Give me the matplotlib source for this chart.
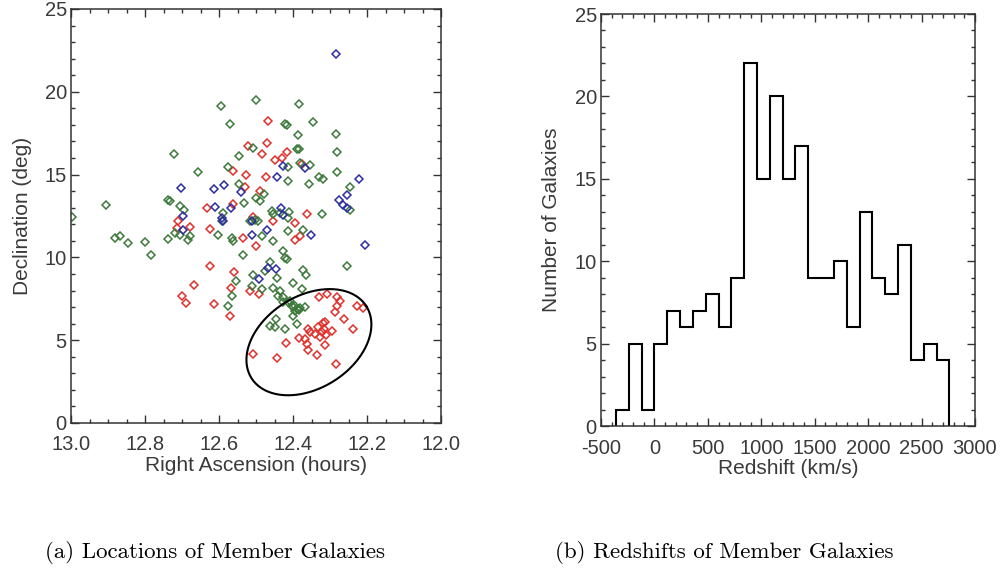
import numpy as np
import matplotlib
matplotlib.use("Agg")
from matplotlib import pyplot as plt
from matplotlib.ticker import MultipleLocator

plt.rcParams['font.family'] = ['Liberation Sans', 'DejaVu Sans']
plt.rcParams['axes.unicode_minus'] = False

# member galaxies, RA (hours) / Dec (deg), split by colour group
ra_red = [12.522, 12.485, 12.561, 12.527, 12.530, 12.467, 12.469, 12.417, 12.430, 12.449,
          12.376, 12.473, 12.490, 12.561, 12.507, 12.363, 12.395, 12.633, 12.710, 12.714,
          12.678, 12.624, 12.453, 12.536, 12.500, 12.395, 12.381, 12.624, 12.559, 12.568,
          12.570, 12.667, 12.699, 12.690, 12.613, 12.516, 12.491, 12.331, 12.309, 12.282,
          12.273, 12.282, 12.286, 12.228, 12.212, 12.262, 12.239, 12.359, 12.354, 12.384,
          12.368, 12.363, 12.322, 12.332, 12.316, 12.327, 12.311, 12.341, 12.319, 12.314,
          12.295, 12.419, 12.359, 12.314, 12.336, 12.442, 12.507, 12.284]
dec_red = [16.70, 16.24, 15.24, 14.98, 14.26, 18.24, 16.92, 16.34, 16.02, 15.90,
           15.65, 14.84, 13.98, 13.22, 12.42, 12.62, 12.08, 13.00, 12.18, 11.78,
           11.82, 11.74, 12.18, 11.18, 10.68, 11.08, 11.28, 9.48, 9.12, 8.16,
           6.44, 8.32, 7.64, 7.24, 7.18, 7.98, 7.78, 7.58, 7.78, 7.58,
           7.38, 7.08, 6.68, 7.08, 6.92, 6.28, 5.68, 5.68, 5.48, 5.14,
           5.08, 4.78, 5.48, 5.82, 5.70, 5.22, 5.34, 5.40, 6.06, 6.08,
           5.54, 4.82, 4.38, 4.68, 4.08, 3.92, 4.18, 3.58]

ra_green = [12.595, 12.500, 12.569, 12.507, 12.721, 12.546, 12.575, 12.658, 12.546, 12.737,
            12.383, 12.421, 12.415, 12.345, 12.386, 12.283, 12.388, 12.385, 12.281, 12.413,
            12.381, 12.353, 12.280, 12.329, 12.318, 12.414, 12.356, 12.246, 12.478, 12.246,
            12.589, 12.532, 12.500, 12.489, 12.458, 12.453, 12.322, 12.410, 12.593, 12.732,
            12.705, 12.695, 12.516, 12.503, 12.494, 12.435, 12.414, 12.413, 12.604, 12.566,
            12.561, 12.485, 12.453, 12.426, 12.422, 12.415, 12.534, 12.554, 12.566, 12.575,
            12.507, 12.462, 12.476, 12.442, 12.512, 12.485, 12.453, 12.399, 12.435, 12.426,
            12.408, 12.395, 12.386, 12.447, 12.422, 12.462, 12.906, 12.996, 12.881, 12.868,
            12.847, 12.800, 12.785, 12.737, 12.719, 12.705, 12.683, 12.678, 12.255, 12.374,
            12.365, 12.375, 12.368, 12.399, 12.449, 12.390, 12.372, 12.390, 12.385, 12.380,
            12.395, 12.400, 12.440, 12.426, 12.413, 12.404]
dec_green = [19.15, 19.50, 18.04, 16.58, 16.26, 16.10, 15.44, 15.18, 14.46, 13.44,
             19.24, 18.04, 18.00, 18.20, 17.38, 17.44, 16.56, 16.52, 16.34, 15.43,
             15.72, 15.58, 15.14, 14.84, 14.72, 14.60, 14.42, 14.28, 13.84, 12.84,
             12.68, 13.28, 13.58, 13.38, 12.82, 12.62, 12.64, 12.72, 12.18, 13.38,
             13.08, 12.88, 12.18, 12.28, 12.18, 12.68, 12.38, 11.58, 11.34, 11.18,
             10.98, 11.28, 10.98, 10.38, 9.98, 9.88, 10.12, 8.58, 7.64, 7.08,
             8.92, 9.72, 9.18, 8.78, 8.28, 8.08, 8.18, 8.44, 7.98, 7.58,
             7.38, 7.08, 6.88, 6.28, 5.68, 5.88, 13.14, 12.44, 11.18, 11.28,
             10.84, 10.92, 10.16, 11.14, 11.48, 11.38, 11.08, 11.28, 9.48, 9.22,
             8.92, 8.08, 7.02, 6.48, 5.78, 5.98, 11.68, 6.90, 6.80, 6.95,
             6.75, 7.00, 7.68, 7.28, 7.28, 7.08]

ra_blue = [12.284, 12.426, 12.368, 12.222, 12.442, 12.586, 12.704, 12.613, 12.541, 12.255,
           12.276, 12.264, 12.255, 12.567, 12.611, 12.432, 12.426, 12.591, 12.588, 12.696,
           12.696, 12.512, 12.512, 12.471, 12.351, 12.205, 12.467, 12.447, 12.491]
dec_blue = [22.30, 15.52, 15.38, 14.76, 14.88, 14.38, 14.20, 14.12, 13.94, 13.76,
            13.46, 13.18, 12.98, 12.98, 13.04, 12.98, 12.58, 12.38, 12.18, 12.48,
            11.68, 12.22, 11.38, 11.64, 11.38, 10.72, 9.38, 9.32, 8.68]

# ellipse round the southern group: centre and the two semi-axis vectors (hours, deg)
ell_center = (12.357, 4.88)
ell_u = (-0.155, 2.18)
ell_v = (0.067, 2.35)

# redshift histogram, 120 km/s bins
z_edges = [-360, -240, -120, 0, 120, 240, 360, 480, 600, 720, 840, 960, 1080, 1200,
           1320, 1440, 1560, 1680, 1800, 1920, 2040, 2160, 2280, 2400, 2520, 2640, 2760]
z_counts = [1, 5, 1, 5, 7, 6, 7, 8, 6, 9, 22, 15, 20, 15,
            17, 9, 9, 10, 6, 13, 9, 8, 11, 4, 5, 4]

fig = plt.figure(figsize=(10.03, 5.75), dpi=100)
ax1 = fig.add_axes([71/1003, 1-423/575, 370/1003, 414/575])
ax2 = fig.add_axes([601/1003, 1-426/575, 374/1003, 412/575])

mk = dict(marker='D', ms=4.3, mfc='none', mew=1.1, ls='none')
ax1.plot(ra_red, dec_red, color='#e0302c', **mk)
ax1.plot(ra_green, dec_green, color='#3d7a3b', **mk)
ax1.plot(ra_blue, dec_blue, color='#2c2ca3', **mk)

t = np.linspace(0, 2*np.pi, 300)
ax1.plot(ell_center[0] + ell_u[0]*np.cos(t) + ell_v[0]*np.sin(t),
         ell_center[1] + ell_u[1]*np.cos(t) + ell_v[1]*np.sin(t), color='k', lw=1.5)

ax1.set_xlim(13.0, 12.0)
ax1.set_ylim(0, 25)
ax1.xaxis.set_major_locator(MultipleLocator(0.2))
ax1.xaxis.set_minor_locator(MultipleLocator(0.05))
ax1.yaxis.set_major_locator(MultipleLocator(5))
ax1.yaxis.set_minor_locator(MultipleLocator(1))
ax1.set_xlabel('Right Ascension (hours)', fontsize=15, color='#3a3a3a', labelpad=1)
ax1.set_ylabel('Declination (deg)', fontsize=15, color='#3a3a3a', labelpad=9)

ax2.stairs(z_counts, z_edges, color='k', lw=1.5, baseline=0)
ax2.set_xlim(-500, 3000)
ax2.set_ylim(0, 25)
ax2.xaxis.set_major_locator(MultipleLocator(500))
ax2.xaxis.set_minor_locator(MultipleLocator(100))
ax2.yaxis.set_major_locator(MultipleLocator(5))
ax2.yaxis.set_minor_locator(MultipleLocator(1))
ax2.set_xlabel('Redshift (km/s)', fontsize=15, color='#3a3a3a', labelpad=1)
ax2.set_ylabel('Number of Galaxies', fontsize=15, color='#3a3a3a', labelpad=10)

for ax in (ax1, ax2):
    ax.tick_params(which='both', direction='in', top=True, right=True,
                   labelsize=14.5, labelcolor='#3a3a3a', color='#333333', width=1)
    ax.tick_params(which='major', length=6)
    ax.tick_params(which='minor', length=3)
    ax.tick_params(axis='x', which='major', pad=9)
    ax.tick_params(axis='y', which='major', pad=3)
    for s in ax.spines.values():
        s.set_linewidth(1.1)
        s.set_color('#333333')

fig.text(45/1003, 1-553/575, '(a) Locations of Member Galaxies', family='cmr10',
         fontsize=16.5, va='center', ha='left')
fig.text(555/1003, 1-553/575, '(b) Redshifts of Member Galaxies', family='cmr10',
         fontsize=16.5, va='center', ha='left')

fig.savefig('out.png', dpi=100)
